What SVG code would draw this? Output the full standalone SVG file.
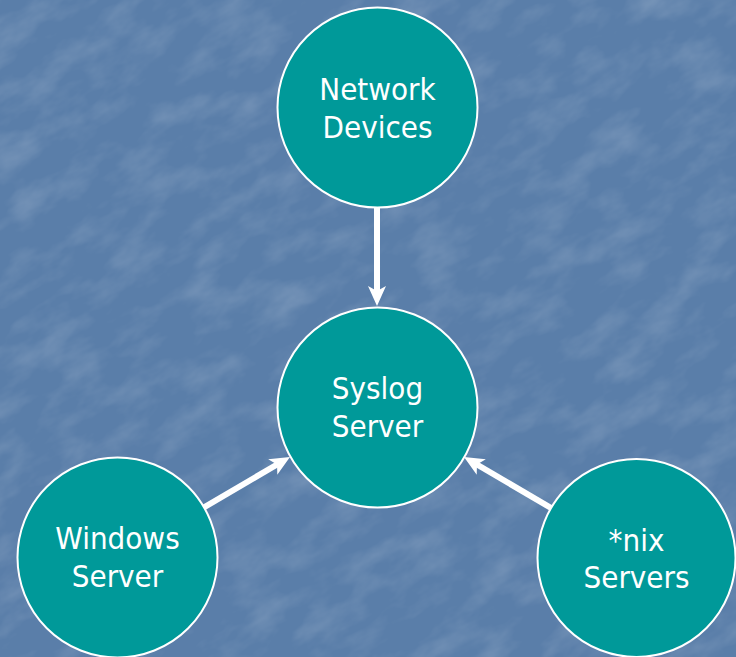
<svg xmlns="http://www.w3.org/2000/svg" width="736" height="657" viewBox="0 0 736 657">
  <style>
    .node circle { fill: #009999; stroke: #ffffff; stroke-width: 2; }
    .node text { fill: #ffffff; font-family: "DejaVu Sans Condensed", "DejaVu Sans", sans-serif; font-stretch: condensed; font-size: 31px; text-anchor: middle; }
    .conn line { stroke: #ffffff; stroke-width: 6; marker-end: url(#arrow); }
  </style>
  <defs>
    <marker id="arrow" viewBox="0 0 20 20" refX="9" refY="10" markerWidth="20" markerHeight="20" markerUnits="userSpaceOnUse" orient="auto">
      <path d="M0,1 L20,10 L0,19 L5,10 Z" fill="#ffffff"/>
    </marker>
    <filter id="tex" x="0" y="0" width="100%" height="100%">
      <feTurbulence type="fractalNoise" baseFrequency="0.03 0.06" numOctaves="4" seed="7" result="n"/>
      <feColorMatrix type="matrix" values="0 0 0 0 1  0 0 0 0 1  0 0 0 0 1  0 0 0 1.4 -0.6" />
    </filter>
  </defs>
  <rect width="736" height="657" fill="#5a7ea9"/>
  <rect width="736" height="657" filter="url(#tex)" opacity="0.22" transform="rotate(-30 368 328) translate(-200 -200) scale(1.6)"/>
  <g id="connectors" class="conn">
    <line x1="377" y1="200" x2="377" y2="295"/>
    <line x1="196" y1="512" x2="280.5" y2="462.5"/>
    <line x1="558" y1="512" x2="473.5" y2="462.5"/>
  </g>
  <g id="network-devices" class="node">
    <circle cx="377.5" cy="107.5" r="100"/>
    <text x="377.5" y="100">Network</text>
    <text x="377.5" y="138">Devices</text>
  </g>
  <g id="syslog-server" class="node">
    <circle cx="377.5" cy="407.5" r="100"/>
    <text x="377.5" y="399">Syslog</text>
    <text x="377.5" y="437">Server</text>
  </g>
  <g id="windows-server" class="node">
    <circle cx="117.5" cy="557.5" r="100"/>
    <text x="117.5" y="549">Windows</text>
    <text x="117.5" y="587">Server</text>
  </g>
  <g id="nix-servers" class="node">
    <circle cx="636.5" cy="558" r="99"/>
    <text x="636.5" y="551">*nix</text>
    <text x="636.5" y="588">Servers</text>
  </g>
</svg>
